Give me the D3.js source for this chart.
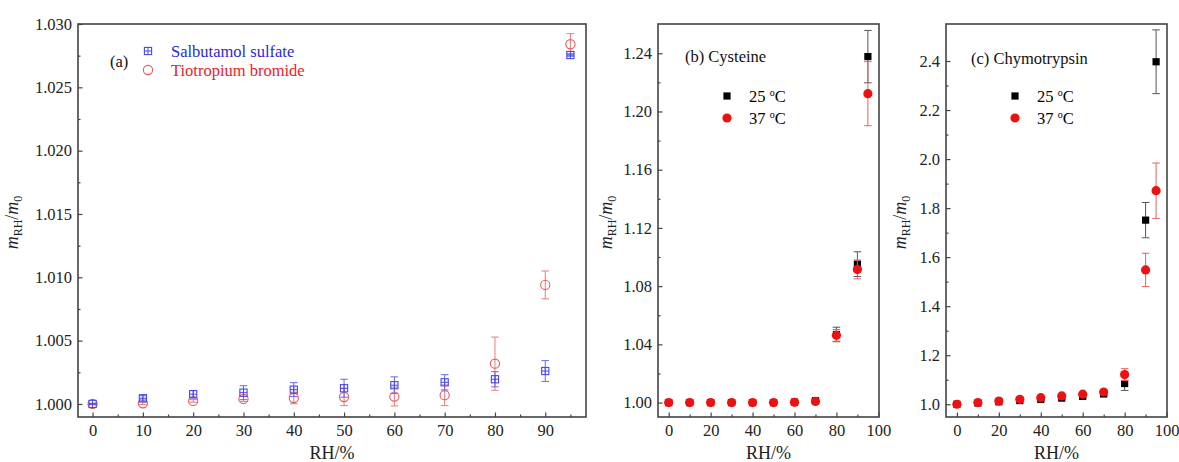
<!DOCTYPE html>
<html>
<head>
<meta charset="utf-8">
<script src="https://cdn.jsdelivr.net/npm/d3@7"></script>
<style>
  body { margin: 0; background: #fff; }
  svg { display: block; }
  svg text { font-family: "Liberation Serif", "Times New Roman", "DejaVu Serif", serif !important; }
</style>
</head>
<body>
<script>
const width = 1179;
const height = 462;

// RH levels shared by all three panels
const rh = [0, 10, 20, 30, 40, 50, 60, 70, 80, 90, 95];

// (a) drugs
const salbutamol = [1.0000, 1.00045, 1.00077, 1.00089, 1.00113, 1.00124, 1.00148, 1.00171, 1.00195, 1.0026, 1.02755];
const salbutamolErr = [0.00005, 0.0002, 0.0003, 0.00055, 0.00055, 0.00071, 0.00066, 0.0006, 0.0006, 0.00082, 0.0001];
const tiotropium = [1.0000, 1.00005, 1.00024, 1.0004, 1.00047, 1.00055, 1.00058, 1.00069, 1.00318, 1.0094, 1.0284];
const tiotropiumErr = [0.00005, 0.0001, 0.0001, 0.0002, 0.00045, 0.00068, 0.00074, 0.00082, 0.0021, 0.0011, 0.00084];

// (b) cysteine
const cys25 = [1.000, 1.000, 1.000, 1.000, 1.000, 1.000, 1.0003, 1.0013, 1.0468, 1.0951, 1.2377];
const cys25Err = [0.0005, 0.0005, 0.0005, 0.0005, 0.0005, 0.0005, 0.0008, 0.001, 0.005, 0.0085, 0.018];
const cys37 = [1.000, 1.000, 1.000, 1.000, 1.000, 1.000, 1.0002, 1.0008, 1.0462, 1.0915, 1.2122];
const cys37Err = [0.0005, 0.0005, 0.0005, 0.0005, 0.0005, 0.0005, 0.0008, 0.001, 0.004, 0.0065, 0.022];

// (c) chymotrypsin
const chy25 = [1.000, 1.005, 1.010, 1.015, 1.020, 1.025, 1.032, 1.042, 1.0845, 1.751, 2.397];
const chy25Err = [0.005, 0.005, 0.005, 0.005, 0.005, 0.005, 0.006, 0.006, 0.028, 0.072, 0.13];
const chy37 = [1.000, 1.007, 1.013, 1.020, 1.027, 1.034, 1.041, 1.050, 1.121, 1.548, 1.871];
const chy37Err = [0.005, 0.005, 0.005, 0.005, 0.005, 0.005, 0.006, 0.006, 0.024, 0.068, 0.113];

// tick labels
const xTicksA = [0, 10, 20, 30, 40, 50, 60, 70, 80, 90];
const xTicksBC = [0, 20, 40, 60, 80, 100];
const yTicksA = [1.000, 1.005, 1.010, 1.015, 1.020, 1.025, 1.030];
const yTicksB = [1.00, 1.04, 1.08, 1.12, 1.16, 1.20, 1.24];
const yTicksC = [1.0, 1.2, 1.4, 1.6, 1.8, 2.0, 2.2, 2.4];

const frameColor = '#444';
const serif = '"Liberation Serif", "Times New Roman", serif';
const plotTop = 24;
const plotBottom = 417;

const svg = d3.select('body')
  .append('svg')
  .attr('width', width)
  .attr('height', height)
  .attr('font-family', serif);

const mid = arr => arr.slice(1).map((v, i) => (v + arr[i]) / 2);

const panels = [
  {
    left: 78, right: 586,
    xDomain: [-2.9, 98.1], yDomain: [0.99897, 1.030],
    xTicks: xTicksA, xMinor: xTicksA.map(v => v + 5),
    yTicks: yTicksA, yMinor: mid(yTicksA), yFormat: '.3f',
    titleX: 18,
    label: '(a)', labelDx: 32, labelY: 61,
    series: [
      { name: 'Tiotropium bromide', y: tiotropium, err: tiotropiumErr, marker: 'circleOpen', color: '#e85a5a', textColor: '#e8222a', errColor: '#ec7a7a' },
      { name: 'Salbutamol sulfate', y: salbutamol, err: salbutamolErr, marker: 'squarePlus', color: '#4848e6', textColor: '#2a2ad4', errColor: '#6a6aec' },
    ],
    legendOrder: [1, 0],
    legendY: [51, 70], legendSymDx: 70, legendTextDx: 93,
  },
  {
    left: 658, right: 879,
    xDomain: [-5.1, 100.3], yDomain: [0.9901, 1.2601],
    xTicks: xTicksBC, xMinor: mid(xTicksBC),
    yTicks: yTicksB, yMinor: mid(yTicksB), yFormat: '.2f',
    titleX: 612,
    label: '(b) Cysteine', labelDx: 27, labelY: 56,
    series: [
      { name: '25', y: cys25, err: cys25Err, marker: 'squareFilled', color: '#000', textColor: '#000', errColor: '#555' },
      { name: '37', y: cys37, err: cys37Err, marker: 'circleFilled', color: '#ee1111', textColor: '#000', errColor: '#e86060' },
    ],
    legendOrder: [0, 1],
    legendY: [96, 118], legendSymDx: 69, legendTextDx: 91,
  },
  {
    left: 946, right: 1167,
    xDomain: [-5.2, 100.2], yDomain: [0.948, 2.551],
    xTicks: xTicksBC, xMinor: mid(xTicksBC),
    yTicks: yTicksC, yMinor: mid(yTicksC), yFormat: '.1f',
    titleX: 906,
    label: '(c) Chymotrypsin', labelDx: 25, labelY: 58,
    series: [
      { name: '25', y: chy25, err: chy25Err, marker: 'squareFilled', color: '#000', textColor: '#000', errColor: '#555' },
      { name: '37', y: chy37, err: chy37Err, marker: 'circleFilled', color: '#ee1111', textColor: '#000', errColor: '#e86060' },
    ],
    legendOrder: [0, 1],
    legendY: [96, 118], legendSymDx: 69, legendTextDx: 91,
  },
];

function drawMarker(g, type, color) {
  if (type === 'circleOpen') {
    g.append('circle').attr('r', 4.6).attr('fill', 'none').attr('stroke', color).attr('stroke-width', 1.1);
  } else if (type === 'circleFilled') {
    g.append('circle').attr('r', 4.6).attr('fill', color);
  } else if (type === 'squareFilled') {
    g.append('rect').attr('x', -3.6).attr('y', -3.6).attr('width', 7.2).attr('height', 7.2).attr('fill', color);
  } else if (type === 'squarePlus') {
    g.append('rect').attr('x', -3.6).attr('y', -3.6).attr('width', 7.2).attr('height', 7.2)
      .attr('fill', 'none').attr('stroke', color).attr('stroke-width', 1.1);
    g.append('path').attr('d', 'M-3.6,0H3.6M0,-3.6V3.6').attr('stroke', color).attr('stroke-width', 1);
  }
}

panels.forEach(p => {
  const x = d3.scaleLinear().domain(p.xDomain).range([p.left, p.right]);
  const y = d3.scaleLinear().domain(p.yDomain).range([plotBottom, plotTop]);
  const g = svg.append('g');

  // error bars then markers
  p.series.forEach(s => {
    const pts = rh.map((r, i) => ({ x: r, y: s.y[i], e: s.err[i] }));
    const eb = g.append('g').attr('stroke', s.errColor).attr('stroke-width', 1).attr('fill', 'none');
    eb.selectAll('path')
      .data(pts)
      .join('path')
      .attr('d', d => {
        const cx = x(d.x), y0 = y(d.y - d.e), y1 = y(d.y + d.e);
        return `M${cx},${y0}V${y1}M${cx - 3.8},${y0}H${cx + 3.8}M${cx - 3.8},${y1}H${cx + 3.8}`;
      });
    g.append('g').selectAll('g')
      .data(pts)
      .join('g')
      .attr('transform', d => `translate(${x(d.x)},${y(d.y)})`)
      .each(function() { drawMarker(d3.select(this), s.marker, s.color); });
  });

  // axes, ticks pointing inward
  g.append('g').attr('transform', `translate(0,${plotBottom})`)
    .call(d3.axisBottom(x).tickValues(p.xTicks).tickSize(-4.5).tickPadding(7).tickSizeOuter(0));
  g.append('g').attr('transform', `translate(0,${plotBottom})`)
    .call(d3.axisBottom(x).tickValues(p.xMinor).tickSize(-2.5).tickFormat('').tickSizeOuter(0));
  g.append('g').attr('transform', `translate(${p.left},0)`)
    .call(d3.axisLeft(y).tickValues(p.yTicks).tickFormat(d3.format(p.yFormat)).tickSize(-4.5).tickPadding(6).tickSizeOuter(0));
  g.append('g').attr('transform', `translate(${p.left},0)`)
    .call(d3.axisLeft(y).tickValues(p.yMinor).tickSize(-2.5).tickFormat('').tickSizeOuter(0));

  g.selectAll('.domain').remove();
  g.selectAll('.tick line').attr('stroke', frameColor).attr('stroke-width', 1.2);
  g.selectAll('.tick text').attr('fill', '#222').attr('font-family', serif).attr('font-size', 16.5);

  g.append('rect')
    .attr('x', p.left).attr('y', plotTop)
    .attr('width', p.right - p.left).attr('height', plotBottom - plotTop)
    .attr('fill', 'none').attr('stroke', frameColor).attr('stroke-width', 1.6);

  // axis titles
  g.append('text')
    .attr('x', (p.left + p.right) / 2).attr('y', 459)
    .attr('text-anchor', 'middle')
    .attr('font-family', serif).attr('font-size', 18).attr('fill', '#222')
    .text('RH/%');

  const yt = g.append('text')
    .attr('transform', `translate(${p.titleX},${(plotTop + plotBottom) / 2 + 2}) rotate(-90)`)
    .attr('text-anchor', 'middle')
    .attr('font-family', serif).attr('font-size', 18).attr('fill', '#222');
  yt.append('tspan').attr('font-style', 'italic').text('m');
  yt.append('tspan').attr('font-size', 12).attr('dy', 4).text('RH');
  yt.append('tspan').attr('dy', -4).text('/');
  yt.append('tspan').attr('font-style', 'italic').text('m');
  yt.append('tspan').attr('font-size', 12).attr('dy', 4).text('0');

  // panel label
  g.append('text')
    .attr('x', p.left + p.labelDx).attr('y', p.labelY).attr('dy', '0.35em')
    .attr('font-family', serif).attr('font-size', 16.5).attr('fill', '#111')
    .text(p.label);

  // legend
  p.legendOrder.forEach((si, k) => {
    const s = p.series[si];
    const ly = p.legendY[k];
    const lg = g.append('g').attr('transform', `translate(${p.left + p.legendSymDx},${ly})`);
    drawMarker(lg, s.marker, s.color);
    const t = g.append('text')
      .attr('x', p.left + p.legendTextDx).attr('y', ly).attr('dy', '0.35em')
      .attr('font-family', serif).attr('font-size', 16.5).attr('fill', s.textColor);
    if (s.marker === 'squareFilled' || s.marker === 'circleFilled') {
      t.append('tspan').text(s.name + ' ');
      t.append('tspan').attr('font-size', 10).attr('dy', -6).text('o');
      t.append('tspan').attr('dy', 6).text('C');
    } else {
      t.text(s.name);
    }
  });
});
</script>
</body>
</html>
